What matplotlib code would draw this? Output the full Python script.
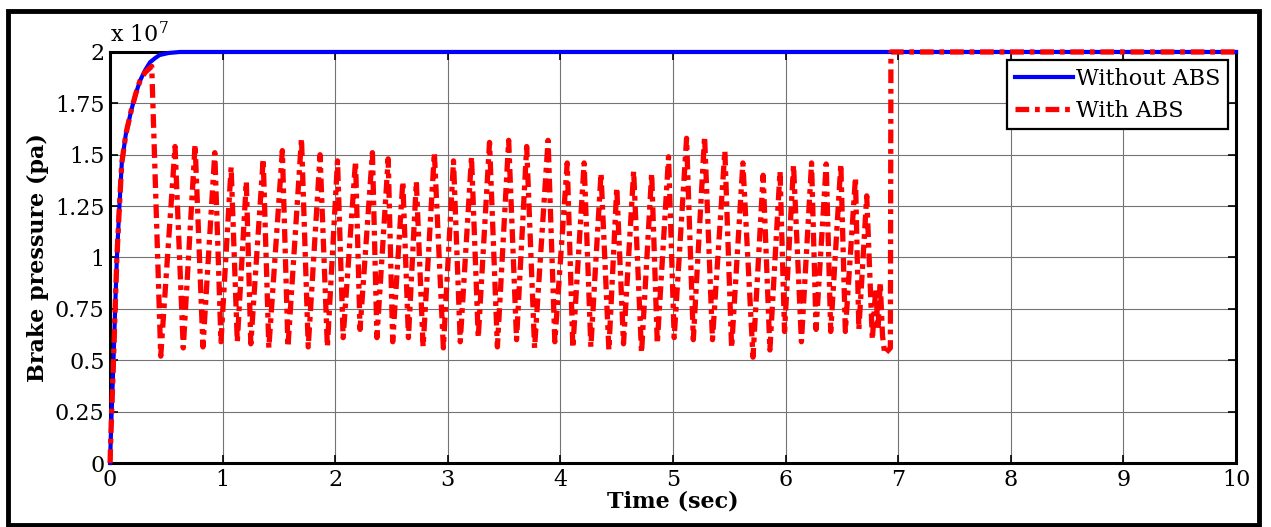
import matplotlib
matplotlib.use('Agg')
import matplotlib.pyplot as plt
from matplotlib.patches import Rectangle
from matplotlib.ticker import FuncFormatter

# brake pressure in units of 1e7 pa
# without ABS: quick rise to 2e7 and holds
t_noabs = [0, 0.008, 0.015, 0.03, 0.045, 0.06, 0.08, 0.104, 0.14, 0.19, 0.23, 0.266,
           0.31, 0.355, 0.40, 0.44, 0.52, 0.62, 10]
p_noabs = [0, 0.15, 0.26, 0.49, 0.75, 0.99, 1.22, 1.46, 1.60, 1.72, 1.80, 1.86,
           1.91, 1.95, 1.97, 1.985, 1.995, 2.0, 2.0]

# with ABS: follows the rise, then cycles between peaks and troughs
t_abs = [0, 0.008, 0.015, 0.03, 0.045, 0.06, 0.08, 0.104, 0.14, 0.19, 0.23, 0.266,
         0.31, 0.37,
         0.45, 0.577, 0.65, 0.755, 0.825, 0.93, 0.985, 1.075, 1.13, 1.21, 1.25, 1.36,
         1.41, 1.53, 1.58, 1.70, 1.76, 1.865, 1.93, 2.02, 2.07, 2.18, 2.22, 2.33,
         2.37, 2.47, 2.51, 2.60, 2.65, 2.72, 2.78, 2.88, 2.96, 3.05, 3.11, 3.21,
         3.27, 3.37, 3.44, 3.54, 3.61, 3.70, 3.77, 3.89, 3.95, 4.06, 4.11, 4.21,
         4.27, 4.36, 4.43, 4.50, 4.56, 4.65, 4.72, 4.81, 4.86, 4.96, 5.01, 5.12,
         5.18, 5.28, 5.35, 5.46, 5.52, 5.62, 5.71, 5.80, 5.86, 5.95, 5.99, 6.07,
         6.14, 6.23, 6.27, 6.36, 6.40, 6.49, 6.53, 6.62, 6.65, 6.72, 6.77, 6.80,
         6.82, 6.84, 6.86, 6.88, 6.93, 6.935, 10]
p_abs = [0, 0.15, 0.26, 0.49, 0.75, 0.99, 1.22, 1.46, 1.60, 1.72, 1.80, 1.86,
         1.90, 1.93,
         0.52, 1.54, 0.56, 1.55, 0.565, 1.51, 0.59, 1.44, 0.59, 1.37, 0.58, 1.48,
         0.56, 1.52, 0.565, 1.58, 0.565, 1.50, 0.565, 1.47, 0.61, 1.47, 0.65, 1.51,
         0.61, 1.48, 0.59, 1.37, 0.61, 1.37, 0.565, 1.51, 0.56, 1.47, 0.59, 1.49,
         0.61, 1.56, 0.565, 1.57, 0.60, 1.54, 0.56, 1.57, 0.59, 1.46, 0.56, 1.46,
         0.565, 1.41, 0.55, 1.34, 0.58, 1.42, 0.535, 1.41, 0.58, 1.49, 0.61, 1.58,
         0.60, 1.59, 0.60, 1.52, 0.56, 1.46, 0.515, 1.40, 0.55, 1.42, 0.64, 1.45,
         0.59, 1.46, 0.65, 1.455, 0.64, 1.455, 0.64, 1.39, 0.65, 1.30, 0.60, 0.85,
         0.65, 0.88, 0.62, 0.53, 0.56, 2.0, 2.0]

plt.rcParams['font.family'] = 'DejaVu Serif'
plt.rcParams['mathtext.fontset'] = 'dejavuserif'

fig = plt.figure(figsize=(12.71, 5.27), dpi=100)
ax = fig.add_axes([0.0866, 0.1214, 0.8859, 0.78])

ax.plot(t_noabs, p_noabs, color='#0000ff', lw=3.0, label='Without ABS',
        clip_on=False, zorder=3)
ax.plot(t_abs, p_abs, color='#ff0000', lw=3.8, dashes=(2.6, 1.1, 0.9, 1.1),
        label='With ABS', clip_on=False, zorder=3)

ax.set_xlim(0, 10)
ax.set_ylim(0, 2)
ax.set_xticks(range(0, 11))
ax.set_yticks([0, 0.25, 0.5, 0.75, 1, 1.25, 1.5, 1.75, 2])
ax.yaxis.set_major_formatter(FuncFormatter(lambda v, p: '%g' % v))
ax.tick_params(direction='in', length=6, width=1.2, labelsize=16,
               top=True, right=True, pad=4)
ax.grid(True, color='0.45', lw=0.8)
for s in ax.spines.values():
    s.set_linewidth(2.2)

ax.text(0, 1.012, r'x 10$^7$', transform=ax.transAxes, fontsize=16,
        ha='left', va='bottom')

ax.set_xlabel('Time (sec)', fontsize=16, fontweight='bold', labelpad=0)
ax.set_ylabel('Brake pressure (pa)', fontsize=16, fontweight='bold', labelpad=4)

leg = ax.legend(loc='upper right', fontsize=16, fancybox=False, framealpha=1,
                edgecolor='black', handlelength=2.6, handletextpad=0.15,
                borderpad=0.35, labelspacing=0.45, borderaxespad=0.35)
leg.get_frame().set_linewidth(1.6)
leg.set_zorder(5)

fig.patches.append(Rectangle((0.0065, 0.004), 0.984, 0.975, transform=fig.transFigure,
                             fill=False, lw=3.5, edgecolor='black'))

fig.savefig('out.png', dpi=100)
